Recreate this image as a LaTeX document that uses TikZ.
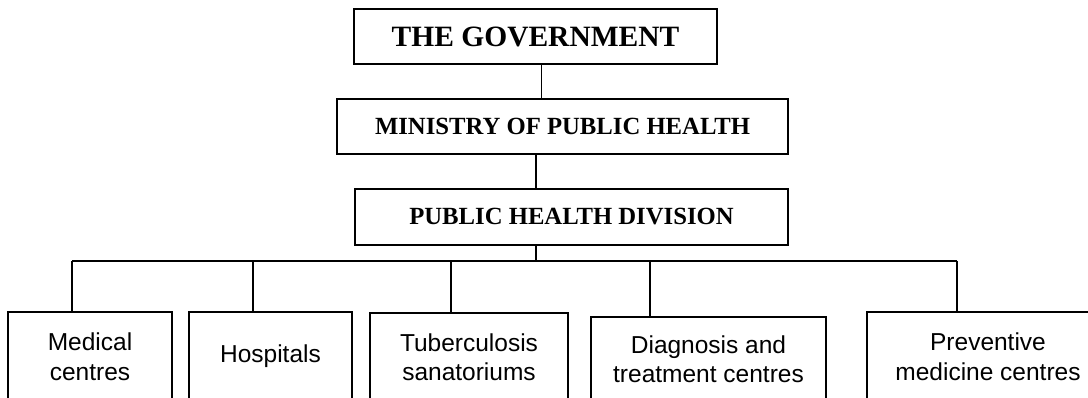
\documentclass[tikz,border=0pt]{standalone}
\usepackage{fontspec}
\setmainfont{Liberation Serif}
\setsansfont{Liberation Sans}
\usetikzlibrary{positioning}

\begin{document}
\begin{tikzpicture}[
        x=1pt, y=-1pt,
        line width=1.6pt,
        head/.style={rectangle, draw, inner sep=0pt, minimum height=55pt, font=\fontsize{29.5}{34}\selectfont\bfseries},
        dept/.style={rectangle, draw, inner sep=0pt, minimum height=55pt, font=\fontsize{24.7}{29}\selectfont\bfseries},
        unit/.style={rectangle, draw, inner sep=0pt, align=center, minimum height=89pt, font=\sffamily\fontsize{24.5}{29.5}\selectfont}
    ]
        \useasboundingbox (0,0) rectangle (1088,398);
        \node[head, minimum width=363pt] (G) at (535.5,36.5) {THE GOVERNMENT};
        \node[dept, minimum width=451pt] (M) at (562.5,126.5) {MINISTRY OF PUBLIC HEALTH};
        \node[dept, minimum width=433pt, minimum height=56pt] (D) at (571.5,217) {PUBLIC HEALTH DIVISION};
        \node[unit, minimum width=164pt] (med) at (90,356.5) {Medical\\centres};
        \node[unit, minimum width=163pt] (hosp) at (270.5,356.5) {Hospitals};
        \node[unit, minimum width=198pt, minimum height=88pt] (tub) at (469,357) {Tuberculosis\\sanatoriums};
        \node[unit, minimum width=235pt, minimum height=84pt] (diag) at (708.5,359) {Diagnosis and\\treatment centres};
        \node[unit, minimum width=242pt] (prev) at (988,356.5) {Preventive\\medicine centres};
        \coordinate (bus) at (536,261);
        \coordinate (d1) at (72,261);
        \coordinate (d2) at (253,261);
        \coordinate (d3) at (451,261);
        \coordinate (d4) at (650,261);
        \coordinate (d5) at (957,261);
        \draw ([xshift=6pt]G.south) -- ([xshift=6pt]G.south |- M.north);
        \draw (M.south -| bus) -- (D.north -| bus);
        \draw (D.south -| bus) -- (bus);
        \draw (d1) -- (d5);
        \draw (d1) -- (d1 |- med.north);
        \draw (d2) -- (d2 |- hosp.north);
        \draw (d3) -- (d3 |- tub.north);
        \draw (d4) -- (d4 |- diag.north);
        \draw (d5) -- (d5 |- prev.north);
    \end{tikzpicture}
\end{document}
